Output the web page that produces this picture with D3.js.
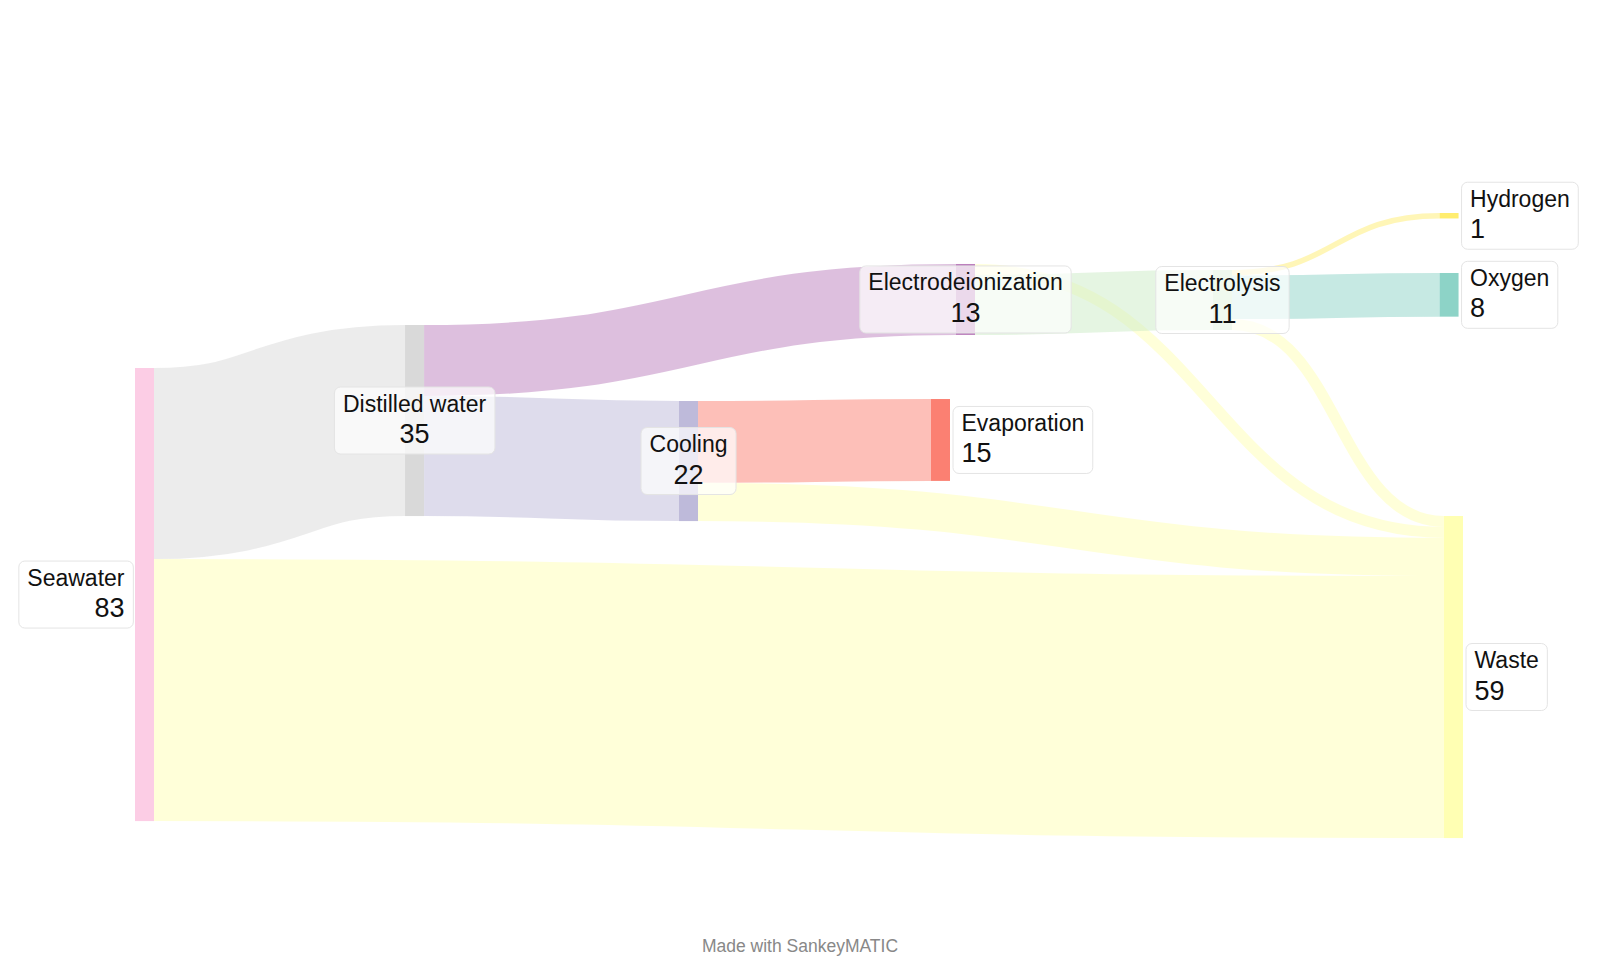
<!DOCTYPE html>
<html>
<head>
<meta charset="utf-8">
<script src="https://cdn.jsdelivr.net/npm/d3@7"></script>
<style>
html, body { margin: 0; padding: 0; background: #ffffff; }
svg { display: block; }
text { font-family: "Liberation Sans", Arial, Helvetica, sans-serif; }
</style>
</head>
<body>
<svg id="chart" width="1600" height="960"></svg>
<script>
// ---------------- DATA ----------------
const nodeNames = ["Seawater", "Distilled water", "Electrodeionization", "Electrolysis",
                   "Hydrogen", "Oxygen", "Waste", "Cooling", "Evaporation"];

// flows (input order also sets the stacking order of links at each node)
const flowSources = ["Seawater", "Distilled water", "Electrolysis", "Electrolysis", "Electrolysis",
                     "Electrodeionization", "Electrodeionization", "Distilled water", "Cooling",
                     "Cooling", "Seawater"];
const flowTargets = ["Distilled water", "Electrodeionization", "Hydrogen", "Oxygen", "Waste",
                     "Waste", "Electrolysis", "Cooling", "Evaporation", "Waste", "Waste"];
const flowValues  = [35, 13, 1, 8, 2, 2, 11, 22, 15, 7, 48];

const footerText = "Made with SankeyMATIC";

// ---------------- LAYOUT / STYLE (kept apart from the data) ----------------
const nodeColorIndex = {            // index into d3.schemeSet3
  "Seawater": 7, "Distilled water": 8, "Electrodeionization": 9, "Electrolysis": 10,
  "Hydrogen": 11, "Oxygen": 0, "Waste": 1, "Cooling": 2, "Evaporation": 3
};
const nodeStage = {                 // horizontal position, fraction of the diagram width
  "Seawater": 0, "Distilled water": 0.2063, "Cooling": 0.4156, "Evaporation": 0.6081,
  "Electrodeionization": 0.6272, "Electrolysis": 0.8235, "Hydrogen": 0.9966,
  "Oxygen": 0.9966, "Waste": 1
};
const nodeTop = {                   // vertical position of node top, in flow units
  "Hydrogen": 0, "Electrodeionization": 9.34, "Electrolysis": 10.44, "Oxygen": 10.99,
  "Distilled water": 20.52, "Seawater": 28.40, "Evaporation": 34.08, "Cooling": 34.44,
  "Waste": 55.51
};

const W = 1600, H = 960;
const nodeWidth = 19;
const linkOpacity = 0.5;
const nameSize = 23, valueSize = 27;

const svg = d3.select("#chart");
svg.append("rect").attr("width", W).attr("height", H).attr("fill", "#ffffff");

const x = d3.scaleLinear().domain([0, 1]).range([135, 1444]);
const y = d3.scaleLinear().domain([0, 114.5]).range([213, 838]);
const k = y(1) - y(0);

const color = name => d3.schemeSet3[nodeColorIndex[name]];

// ---------------- BUILD GRAPH ----------------
const nodes = nodeNames.map(name => ({ name, ins: [], outs: [] }));
const byName = new Map(nodes.map(n => [n.name, n]));
const links = flowValues.map((v, i) => ({
  source: byName.get(flowSources[i]),
  target: byName.get(flowTargets[i]),
  value: v
}));
links.forEach(l => { l.source.outs.push(l); l.target.ins.push(l); });

nodes.forEach(n => {
  n.value = Math.max(d3.sum(n.ins, d => d.value), d3.sum(n.outs, d => d.value));
  n.x0 = x(nodeStage[n.name]);
  n.x1 = n.x0 + nodeWidth;
  n.y0 = y(nodeTop[n.name]);
  n.y1 = y(nodeTop[n.name] + n.value);
  let acc = nodeTop[n.name];
  n.outs.forEach(l => { l.sy0 = y(acc); acc += l.value; l.sy1 = y(acc); });
  acc = nodeTop[n.name];
  n.ins.forEach(l => { l.ty0 = y(acc); acc += l.value; l.ty1 = y(acc); });
});

// ---------------- LINKS ----------------
const linkPath = d3.linkHorizontal()
  .source(d => [d.source.x1, (d.sy0 + d.sy1) / 2])
  .target(d => [d.target.x0, (d.ty0 + d.ty1) / 2]);

svg.append("g").attr("class", "links")
  .selectAll("path").data(links).join("path")
  .attr("d", linkPath)
  .attr("fill", "none")
  .attr("stroke", d => color(d.target.name))
  .attr("stroke-opacity", linkOpacity)
  .attr("stroke-width", d => d.value * k);

// ---------------- NODES ----------------
svg.append("g").attr("class", "nodes")
  .selectAll("rect").data(nodes).join("rect")
  .attr("x", d => d.x0)
  .attr("y", d => d.y0)
  .attr("width", d => d.x1 - d.x0)
  .attr("height", d => d.y1 - d.y0)
  .attr("fill", d => color(d.name));

// ---------------- LABELS ----------------
const pad = 8.5, boxH = 67;
const labelG = svg.append("g").attr("class", "labels");
nodes.forEach(n => {
  const side = n.ins.length === 0 ? "left" : (n.outs.length === 0 ? "right" : "center");
  const cy = (n.y0 + n.y1) / 2;
  let tx, anchor;
  if (side === "left") { tx = n.x0 - 2 - pad; anchor = "end"; }
  else if (side === "right") { tx = n.x1 + 3 + pad; anchor = "start"; }
  else { tx = (n.x0 + n.x1) / 2; anchor = "middle"; }

  const g = labelG.append("g");
  const box = g.append("rect");
  const t = g.append("text").attr("text-anchor", anchor).attr("fill", "#111111");
  t.append("tspan").attr("x", tx).attr("y", cy - 9)
    .attr("font-size", nameSize).text(n.name);
  t.append("tspan").attr("x", tx).attr("y", cy + 22.5)
    .attr("font-size", valueSize).text(d3.format(",")(n.value));
  const bb = t.node().getBBox();
  box.attr("x", bb.x - pad).attr("y", cy - boxH / 2)
    .attr("width", bb.width + 2 * pad).attr("height", boxH)
    .attr("rx", 6).attr("ry", 6)
    .attr("fill", "#ffffff").attr("fill-opacity", 0.7)
    .attr("stroke", "#e4e4e4").attr("stroke-width", 1);
});

// ---------------- FOOTER ----------------
svg.append("text")
  .attr("x", W / 2).attr("y", 952)
  .attr("text-anchor", "middle")
  .attr("font-size", 17.5)
  .attr("fill", "#888888")
  .text(footerText);
</script>
</body>
</html>
